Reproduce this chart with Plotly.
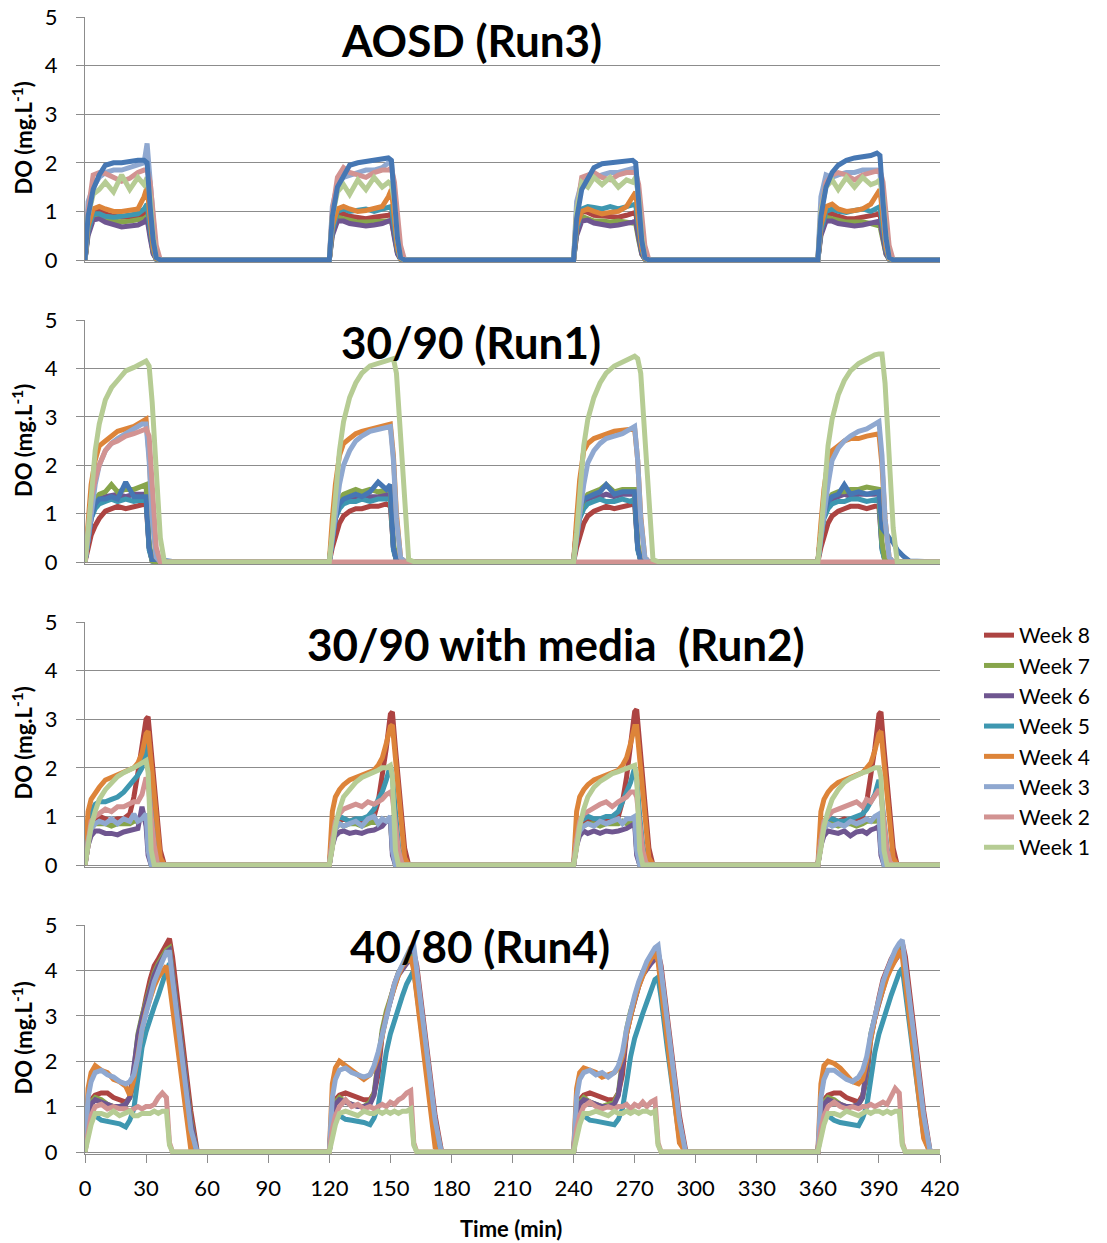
import plotly.graph_objects as go

# ---------------------------------------------------------------------------
# Dissolved oxygen (DO, mg/L) logged over four 120-min cycles for each run.
# Each series is given per cycle on the run's relative-time grid (minutes
# from the start of aeration); cycles start at CYCLE_STARTS.
# ---------------------------------------------------------------------------
CYCLE_STARTS = [0, 120, 240, 360]
END_TIME = 420
WEEKS = ["Week 8", "Week 7", "Week 6", "Week 5", "Week 4", "Week 3", "Week 2", "Week 1"]
EXTRA_SERIES = "Week 9"
PANEL_TITLES = ["AOSD (Run3)", "30/90 (Run1)", "30/90 with media\u00a0 (Run2)", "40/80 (Run4)"]
X_TICKS = [0, 30, 60, 90, 120, 150, 180, 210, 240, 270, 300, 330, 360, 390, 420]
Y_TICKS = [0, 1, 2, 3, 4, 5]

# ---- AOSD (Run3) ----------------------------------------------------------
T_RUN3 = [0, 1.5, 4, 7, 10, 14, 18, 22, 26, 29, 30.5, 32, 33.5, 35, 37]
RUN3_W8 = [[0, 0.6, 1.0, 1.02, 0.95, 0.9, 0.88, 0.9, 0.9, 0.95, 1.0, 0.55, 0.15, 0.02, 0],
           [0, 0.6, 0.95, 0.95, 0.9, 0.88, 0.85, 0.88, 0.9, 0.92, 0.95, 0.5, 0.15, 0.02, 0],
           [0, 0.6, 1.0, 0.98, 0.92, 0.9, 0.88, 0.88, 0.92, 0.95, 0.98, 0.55, 0.15, 0.02, 0],
           [0, 0.6, 0.95, 0.95, 0.9, 0.85, 0.85, 0.88, 0.9, 0.92, 0.95, 0.5, 0.15, 0.02, 0]]
RUN3_W7 = [[0, 0.55, 0.9, 0.88, 0.82, 0.8, 0.78, 0.8, 0.82, 0.85, 0.9, 0.5, 0.15, 0.02, 0],
           [0, 0.55, 0.88, 0.85, 0.8, 0.78, 0.78, 0.78, 0.8, 0.8, 0.82, 0.45, 0.15, 0.02, 0],
           [0, 0.55, 0.9, 0.85, 0.8, 0.8, 0.78, 0.8, 0.78, 0.75, 0.75, 0.4, 0.12, 0.02, 0],
           [0, 0.55, 0.88, 0.85, 0.8, 0.78, 0.78, 0.78, 0.75, 0.72, 0.7, 0.4, 0.12, 0.02, 0]]
RUN3_W6 = [[0, 0.5, 0.82, 0.85, 0.78, 0.72, 0.68, 0.7, 0.72, 0.78, 0.85, 0.45, 0.12, 0.02, 0],
           [0, 0.5, 0.8, 0.8, 0.75, 0.72, 0.7, 0.72, 0.75, 0.8, 0.82, 0.45, 0.12, 0.02, 0],
           [0, 0.5, 0.8, 0.82, 0.76, 0.72, 0.7, 0.72, 0.74, 0.78, 0.8, 0.45, 0.12, 0.02, 0],
           [0, 0.5, 0.8, 0.8, 0.75, 0.72, 0.7, 0.72, 0.75, 0.78, 0.8, 0.45, 0.12, 0.02, 0]]
RUN3_W5 = [[0, 0.6, 0.95, 0.95, 0.9, 0.88, 0.9, 0.92, 0.95, 1.05, 1.15, 0.65, 0.2, 0.02, 0],
           [0, 0.6, 1.0, 1.05, 1.0, 1.02, 1.05, 1.0, 1.05, 1.08, 1.1, 0.65, 0.2, 0.02, 0],
           [0, 0.6, 1.05, 1.1, 1.08, 1.05, 1.1, 1.05, 1.1, 1.12, 1.15, 0.65, 0.2, 0.02, 0],
           [0, 0.6, 1.0, 1.05, 1.0, 0.98, 1.02, 1.05, 1.0, 1.05, 1.1, 0.65, 0.2, 0.02, 0]]
RUN3_W4 = [[0, 0.7, 1.05, 1.1, 1.05, 1.0, 1.0, 1.02, 1.05, 1.3, 1.5, 0.85, 0.25, 0.03, 0],
           [0, 0.7, 1.05, 1.1, 1.05, 1.0, 1.02, 1.05, 1.1, 1.3, 1.45, 0.85, 0.25, 0.03, 0],
           [0, 0.7, 1.0, 1.05, 1.0, 0.95, 0.98, 1.0, 1.1, 1.3, 1.4, 0.8, 0.25, 0.03, 0],
           [0, 0.7, 1.1, 1.15, 1.05, 1.0, 1.02, 1.05, 1.15, 1.35, 1.45, 0.85, 0.25, 0.03, 0]]
RUN3_W3 = [[0, 1.2, 1.5, 1.7, 1.8, 1.85, 1.85, 1.9, 1.95, 2.0, 2.4, 1.6, 0.6, 0.1, 0],
           [0, 1.1, 1.55, 1.7, 1.75, 1.8, 1.85, 1.85, 1.9, 2.0, 2.05, 1.3, 0.45, 0.05, 0],
           [0, 1.2, 1.6, 1.65, 1.7, 1.75, 1.8, 1.8, 1.85, 1.9, 1.9, 1.2, 0.4, 0.05, 0],
           [0, 1.3, 1.75, 1.7, 1.75, 1.8, 1.8, 1.85, 1.85, 1.85, 1.8, 1.1, 0.4, 0.05, 0]]
RUN3_W2 = [[0, 1.0, 1.75, 1.8, 1.78, 1.7, 1.62, 1.68, 1.8, 1.85, 1.85, 1.6, 0.9, 0.3, 0],
           [0, 1.0, 1.7, 1.9, 1.8, 1.75, 1.7, 1.8, 1.85, 1.85, 1.9, 1.6, 0.9, 0.3, 0],
           [0, 1.0, 1.7, 1.75, 1.8, 1.7, 1.65, 1.75, 1.8, 1.8, 1.8, 1.55, 0.85, 0.3, 0],
           [0, 1.0, 1.6, 1.75, 1.8, 1.75, 1.65, 1.75, 1.8, 1.85, 1.85, 1.6, 0.9, 0.3, 0]]
RUN3_W1 = [[0, 0.9, 1.35, 1.45, 1.6, 1.4, 1.75, 1.45, 1.7, 1.55, 1.7, 1.3, 0.5, 0.05, 0],
           [0, 0.9, 1.4, 1.55, 1.35, 1.65, 1.45, 1.7, 1.5, 1.6, 1.55, 1.2, 0.45, 0.05, 0],
           [0, 1.0, 1.6, 1.5, 1.7, 1.55, 1.7, 1.5, 1.65, 1.6, 1.7, 1.3, 0.5, 0.05, 0],
           [0, 1.0, 1.5, 1.65, 1.45, 1.7, 1.5, 1.7, 1.55, 1.6, 1.65, 1.3, 0.5, 0.05, 0]]
RUN3_W9 = [[0, 0.9, 1.45, 1.75, 1.95, 2.0, 2.0, 2.03, 2.05, 2.05, 2.0, 1.1, 0.4, 0.05, 0],
           [0, 0.9, 1.5, 1.75, 1.95, 2.0, 2.02, 2.05, 2.08, 2.1, 2.05, 1.2, 0.45, 0.05, 0],
           [0, 0.85, 1.45, 1.7, 1.9, 1.98, 2.0, 2.02, 2.05, 2.05, 2.0, 1.1, 0.4, 0.05, 0],
           [0, 0.9, 1.5, 1.8, 1.95, 2.05, 2.1, 2.12, 2.15, 2.2, 2.15, 1.2, 0.45, 0.05, 0]]

# ---- 30/90 (Run1) ---------------------------------------------------------
T_RUN1 = [0, 1.5, 3, 5, 7, 10, 13, 16, 20, 24, 28, 30, 31.5, 33, 35, 37, 39, 42, 45]
RUN1_W8 = [[0, 0.3, 0.55, 0.75, 0.9, 1.05, 1.1, 1.15, 1.1, 1.15, 1.2, 1.2, 0.3, 0.02, 0, 0, 0, 0, 0],
           [0, 0.3, 0.55, 0.8, 0.95, 1.05, 1.1, 1.1, 1.15, 1.15, 1.2, 1.15, 0.3, 0.02, 0, 0, 0, 0, 0],
           [0, 0.3, 0.55, 0.8, 0.95, 1.05, 1.1, 1.15, 1.1, 1.15, 1.2, 1.2, 0.3, 0.02, 0, 0, 0, 0, 0],
           [0, 0.3, 0.55, 0.8, 0.95, 1.05, 1.1, 1.15, 1.15, 1.1, 1.15, 1.15, 0.3, 0.02, 0, 0, 0, 0, 0]]
RUN1_W7 = [[0, 0.6, 1.0, 1.3, 1.4, 1.45, 1.6, 1.45, 1.5, 1.5, 1.55, 1.6, 0.4, 0.02, 0, 0, 0, 0, 0],
           [0, 0.6, 1.0, 1.3, 1.4, 1.45, 1.5, 1.45, 1.5, 1.45, 1.5, 1.5, 0.4, 0.02, 0, 0, 0, 0, 0],
           [0, 0.6, 1.0, 1.3, 1.4, 1.45, 1.5, 1.6, 1.45, 1.5, 1.5, 1.5, 0.4, 0.02, 0, 0, 0, 0, 0],
           [0, 0.6, 1.0, 1.3, 1.4, 1.45, 1.45, 1.5, 1.5, 1.55, 1.5, 1.5, 0.4, 0.02, 0, 0, 0, 0, 0]]
RUN1_W6 = [[0, 0.5, 0.9, 1.2, 1.3, 1.35, 1.38, 1.4, 1.35, 1.4, 1.4, 1.4, 0.3, 0.02, 0, 0, 0, 0, 0],
           [0, 0.5, 0.9, 1.2, 1.3, 1.35, 1.35, 1.38, 1.35, 1.35, 1.4, 1.35, 0.3, 0.02, 0, 0, 0, 0, 0],
           [0, 0.7, 1.0, 1.2, 1.3, 1.35, 1.35, 1.4, 1.35, 1.4, 1.4, 1.4, 0.3, 0.02, 0, 0, 0, 0, 0],
           [0, 0.6, 1.0, 1.2, 1.3, 1.35, 1.4, 1.35, 1.4, 1.4, 1.4, 1.45, 0.3, 0.02, 0, 0, 0, 0, 0]]
RUN1_W5 = [[0, 0.5, 0.9, 1.1, 1.2, 1.25, 1.3, 1.25, 1.3, 1.25, 1.3, 1.3, 0.25, 0.02, 0, 0, 0, 0, 0],
           [0, 0.5, 0.9, 1.1, 1.2, 1.25, 1.25, 1.3, 1.25, 1.3, 1.3, 1.3, 0.25, 0.02, 0, 0, 0, 0, 0],
           [0, 0.5, 0.9, 1.1, 1.2, 1.25, 1.3, 1.25, 1.25, 1.3, 1.25, 1.3, 0.25, 0.02, 0, 0, 0, 0, 0],
           [0, 0.5, 0.9, 1.1, 1.2, 1.25, 1.25, 1.3, 1.3, 1.25, 1.3, 1.3, 0.25, 0.02, 0, 0, 0, 0, 0]]
RUN1_W4 = [[0, 0.9, 1.6, 2.1, 2.4, 2.5, 2.6, 2.7, 2.75, 2.8, 2.9, 2.95, 2.2, 1.0, 0.1, 0, 0, 0, 0],
           [0, 0.9, 1.6, 2.2, 2.45, 2.55, 2.65, 2.7, 2.75, 2.8, 2.85, 2.85, 2.2, 1.0, 0.1, 0, 0, 0, 0],
           [0, 0.9, 1.7, 2.3, 2.45, 2.55, 2.6, 2.65, 2.7, 2.72, 2.75, 2.75, 2.1, 0.95, 0.1, 0, 0, 0, 0],
           [0, 0.8, 1.5, 2.1, 2.3, 2.4, 2.5, 2.55, 2.55, 2.6, 2.65, 2.65, 2.0, 0.9, 0.1, 0, 0, 0, 0]]
RUN1_W3 = [[0, 0.5, 1.0, 1.6, 2.0, 2.3, 2.45, 2.55, 2.65, 2.75, 2.85, 2.85, 2.1, 0.9, 0.1, 0, 0, 0, 0],
           [0, 0.5, 1.0, 1.6, 2.0, 2.3, 2.5, 2.6, 2.7, 2.75, 2.8, 2.8, 2.1, 0.9, 0.1, 0, 0, 0, 0],
           [0, 0.5, 1.0, 1.6, 2.05, 2.3, 2.45, 2.55, 2.6, 2.65, 2.75, 2.8, 2.1, 0.9, 0.1, 0, 0, 0, 0],
           [0, 0.5, 1.0, 1.6, 2.1, 2.35, 2.5, 2.6, 2.7, 2.75, 2.85, 2.9, 2.2, 0.9, 0.1, 0, 0, 0, 0]]
RUN1_W2 = [[0, 0.8, 1.3, 1.7, 2.0, 2.3, 2.45, 2.5, 2.6, 2.65, 2.7, 2.75, 2.6, 1.6, 0.3, 0, 0, 0, 0],
           [0, 0, 0, 0, 0, 0, 0, 0, 0, 0, 0, 0, 0, 0, 0, 0, 0, 0, 0],
           [0, 0, 0, 0, 0, 0, 0, 0, 0, 0, 0, 0, 0, 0, 0, 0, 0, 0, 0],
           [0, 0, 0, 0, 0, 0, 0, 0, 0, 0, 0, 0, 0, 0, 0, 0, 0, 0, 0]]
RUN1_W1 = [[0, 0.6, 1.3, 2.3, 2.85, 3.35, 3.6, 3.75, 3.95, 4.02, 4.1, 4.15, 4.05, 3.3, 1.9, 0.5, 0, 0, 0],
           [0, 0.6, 1.3, 2.3, 2.9, 3.4, 3.7, 3.9, 4.05, 4.1, 4.15, 4.2, 4.2, 3.9, 2.6, 1.2, 0.05, 0, 0],
           [0, 0.6, 1.3, 2.4, 2.95, 3.4, 3.7, 3.9, 4.05, 4.12, 4.2, 4.25, 4.2, 3.9, 2.6, 1.2, 0.05, 0, 0],
           [0, 0.6, 1.3, 2.4, 2.95, 3.45, 3.75, 3.95, 4.1, 4.2, 4.28, 4.3, 4.3, 3.7, 2.2, 0.7, 0, 0, 0]]
RUN1_W9 = [[0, 0.5, 0.9, 1.2, 1.3, 1.3, 1.35, 1.3, 1.65, 1.35, 1.35, 1.35, 0.3, 0.05, 0.05, 0.04, 0.03, 0.02, 0],
           [0, 0.5, 0.9, 1.2, 1.3, 1.35, 1.4, 1.35, 1.45, 1.65, 1.5, 1.6, 0.3, 0.03, 0.02, 0, 0, 0, 0],
           [0, 0.7, 1.1, 1.3, 1.35, 1.4, 1.45, 1.6, 1.4, 1.45, 1.45, 1.45, 0.3, 0.03, 0, 0, 0, 0, 0],
           [0, 0.6, 1.0, 1.25, 1.35, 1.4, 1.6, 1.4, 1.45, 1.4, 1.45, 1.45, 0.7, 0.6, 0.5, 0.4, 0.25, 0.12, 0.02]]

# ---- 30/90 with media (Run2) ----------------------------------------------
T_RUN2 = [0, 1.5, 3, 5, 7, 10, 13, 16, 19, 22, 24, 26, 28, 30, 31, 32.5, 34, 35.5, 37, 39]
RUN2_W8 = [[0, 0.4, 0.8, 0.95, 1.0, 0.95, 0.9, 0.95, 0.95, 1.05, 1.4, 1.9, 2.45, 3.0, 3.05, 2.3, 1.6, 0.9, 0.3, 0],
           [0, 0.4, 0.75, 0.9, 0.95, 0.9, 0.95, 0.9, 0.95, 1.0, 1.3, 1.8, 2.4, 3.1, 3.15, 2.4, 1.7, 1.0, 0.35, 0],
           [0, 0.4, 0.75, 0.9, 0.95, 0.9, 0.9, 0.95, 0.95, 1.0, 1.3, 1.8, 2.4, 3.15, 3.2, 2.45, 1.7, 1.0, 0.35, 0],
           [0, 0.4, 0.75, 0.9, 0.95, 0.9, 0.95, 0.9, 0.95, 1.0, 1.3, 1.8, 2.4, 3.1, 3.15, 2.4, 1.7, 1.0, 0.35, 0]]
RUN2_W7 = [[0, 0.5, 0.75, 0.85, 0.85, 0.85, 0.8, 0.85, 0.85, 0.85, 0.9, 0.9, 0.95, 1.0, 0.3, 0, 0, 0, 0, 0],
           [0, 0.5, 0.75, 0.85, 0.8, 0.85, 0.85, 0.8, 0.85, 0.9, 0.85, 0.9, 0.9, 0.95, 0.3, 0, 0, 0, 0, 0],
           [0, 0.5, 0.75, 0.8, 0.85, 0.85, 0.8, 0.85, 0.85, 0.85, 0.9, 0.85, 0.9, 0.95, 0.3, 0, 0, 0, 0, 0],
           [0, 0.5, 0.75, 0.85, 0.85, 0.8, 0.85, 0.85, 0.8, 0.85, 0.9, 0.9, 0.9, 0.95, 0.3, 0, 0, 0, 0, 0]]
RUN2_W6 = [[0, 0.4, 0.6, 0.7, 0.7, 0.65, 0.65, 0.62, 0.68, 0.7, 0.72, 0.75, 1.2, 0.8, 0.2, 0, 0, 0, 0, 0],
           [0, 0.4, 0.6, 0.68, 0.7, 0.65, 0.68, 0.65, 0.7, 0.72, 0.75, 0.8, 0.9, 0.95, 0.2, 0, 0, 0, 0, 0],
           [0, 0.4, 0.6, 0.7, 0.65, 0.7, 0.65, 0.7, 0.68, 0.7, 0.72, 0.75, 0.8, 0.85, 0.2, 0, 0, 0, 0, 0],
           [0, 0.4, 0.6, 0.7, 0.68, 0.65, 0.7, 0.6, 0.68, 0.7, 0.65, 0.72, 0.75, 0.8, 0.2, 0, 0, 0, 0, 0]]
RUN2_W5 = [[0, 0.7, 1.1, 1.25, 1.3, 1.3, 1.35, 1.4, 1.5, 1.65, 1.75, 1.85, 2.0, 2.5, 2.3, 1.5, 0.8, 0.25, 0, 0],
           [0, 0.6, 0.9, 1.0, 0.95, 0.9, 0.95, 0.95, 1.0, 1.15, 1.35, 1.5, 1.75, 2.05, 1.8, 1.0, 0.4, 0.05, 0, 0],
           [0, 0.6, 0.9, 0.95, 1.0, 0.95, 0.95, 1.0, 1.0, 1.1, 1.3, 1.5, 1.7, 2.0, 1.8, 1.0, 0.4, 0.05, 0, 0],
           [0, 0.6, 0.9, 0.95, 0.95, 0.9, 0.9, 0.95, 1.0, 1.05, 1.15, 1.3, 1.45, 1.75, 1.5, 0.9, 0.35, 0.05, 0, 0]]
RUN2_W4 = [[0, 1.1, 1.35, 1.5, 1.6, 1.75, 1.8, 1.85, 1.9, 1.95, 2.0, 2.1, 2.3, 2.7, 2.75, 2.1, 1.4, 0.7, 0.15, 0],
           [0, 1.1, 1.4, 1.55, 1.65, 1.75, 1.8, 1.85, 1.9, 1.95, 2.05, 2.2, 2.5, 2.85, 2.88, 2.2, 1.5, 0.75, 0.15, 0],
           [0, 1.1, 1.4, 1.55, 1.65, 1.75, 1.8, 1.85, 1.9, 1.95, 2.05, 2.2, 2.5, 2.85, 2.85, 2.2, 1.5, 0.75, 0.15, 0],
           [0, 1.1, 1.35, 1.5, 1.6, 1.7, 1.75, 1.8, 1.85, 1.9, 2.0, 2.1, 2.35, 2.7, 2.75, 2.1, 1.4, 0.7, 0.15, 0]]
RUN2_W3 = [[0, 0.5, 0.75, 0.85, 0.9, 0.85, 0.95, 0.85, 0.95, 0.9, 1.05, 0.9, 0.95, 1.05, 0.3, 0, 0, 0, 0, 0],
           [0, 0.5, 0.75, 0.85, 0.8, 0.85, 0.9, 0.8, 0.95, 1.0, 0.85, 0.95, 0.9, 1.0, 0.3, 0, 0, 0, 0, 0],
           [0, 0.5, 0.7, 0.8, 0.85, 0.8, 0.9, 0.85, 0.9, 0.95, 0.85, 0.95, 0.95, 1.0, 0.3, 0, 0, 0, 0, 0],
           [0, 0.5, 0.75, 0.85, 0.8, 0.85, 0.8, 0.9, 0.85, 0.9, 0.95, 0.9, 1.0, 1.05, 0.3, 0, 0, 0, 0, 0]]
RUN2_W2 = [[0, 0.5, 0.9, 1.0, 1.05, 1.15, 1.1, 1.2, 1.2, 1.25, 1.3, 1.3, 1.45, 1.8, 1.7, 1.0, 0.4, 0.05, 0, 0],
           [0, 0.5, 0.9, 1.05, 1.15, 1.2, 1.25, 1.2, 1.3, 1.25, 1.3, 1.35, 1.45, 1.5, 1.4, 0.8, 0.3, 0.05, 0, 0],
           [0, 0.5, 0.9, 1.05, 1.1, 1.2, 1.25, 1.3, 1.2, 1.3, 1.35, 1.4, 1.5, 1.5, 1.4, 0.8, 0.3, 0.05, 0, 0],
           [0, 0.5, 0.9, 1.0, 1.1, 1.15, 1.2, 1.25, 1.3, 1.2, 1.35, 1.3, 1.45, 1.55, 1.45, 0.8, 0.3, 0.05, 0, 0]]
RUN2_W1 = [[0, 0.35, 0.8, 1.1, 1.35, 1.55, 1.7, 1.82, 1.9, 1.95, 2.0, 2.05, 2.1, 2.15, 1.9, 0.3, 0, 0, 0, 0],
           [0, 0.35, 0.8, 1.15, 1.4, 1.55, 1.7, 1.8, 1.85, 1.9, 1.95, 2.0, 2.0, 2.05, 1.8, 0.3, 0, 0, 0, 0],
           [0, 0.35, 0.8, 1.15, 1.4, 1.6, 1.72, 1.8, 1.88, 1.92, 1.95, 1.98, 2.0, 2.05, 1.8, 0.3, 0, 0, 0, 0],
           [0, 0.35, 0.8, 1.1, 1.35, 1.55, 1.7, 1.78, 1.85, 1.9, 1.92, 1.95, 2.0, 2.0, 1.8, 0.3, 0, 0, 0, 0]]

# ---- 40/80 (Run4) ---------------------------------------------------------
T_RUN4 = [0, 1.5, 3, 5, 8, 11, 14, 17, 20, 22, 24, 26, 28, 30, 32, 34, 36, 38, 40, 41.5, 43, 46, 49, 52, 55, 57]
RUN4_W8 = [[0, 0.9, 1.15, 1.25, 1.3, 1.3, 1.2, 1.15, 1.1, 1.2, 1.5, 2.5, 3.0, 3.4, 3.8, 4.1, 4.25, 4.4, 4.55, 4.7, 4.3, 3.2, 2.0, 0.9, 0.05, 0],
           [0, 0.9, 1.15, 1.25, 1.3, 1.25, 1.2, 1.15, 1.15, 1.3, 1.7, 2.6, 3.0, 3.4, 3.7, 3.95, 4.1, 4.25, 4.35, 4.4, 4.1, 3.0, 1.9, 0.8, 0.05, 0],
           [0, 0.9, 1.15, 1.25, 1.3, 1.25, 1.2, 1.15, 1.15, 1.3, 1.7, 2.6, 3.0, 3.4, 3.7, 3.95, 4.1, 4.25, 4.35, 4.4, 4.1, 3.0, 1.9, 0.8, 0.05, 0],
           [0, 0.9, 1.15, 1.25, 1.3, 1.3, 1.2, 1.15, 1.1, 1.25, 1.6, 2.5, 3.0, 3.4, 3.8, 4.05, 4.25, 4.4, 4.5, 4.6, 4.3, 3.2, 2.0, 0.9, 0.05, 0]]
RUN4_W7 = [[0, 0.8, 1.1, 1.2, 1.15, 1.05, 1.0, 1.0, 1.05, 1.2, 1.8, 2.6, 3.0, 3.35, 3.7, 3.95, 4.15, 4.3, 4.45, 4.5, 4.0, 2.9, 1.8, 0.7, 0, 0],
           [0, 0.8, 1.1, 1.2, 1.1, 1.05, 1.0, 1.0, 1.1, 1.3, 2.0, 2.7, 3.1, 3.4, 3.7, 3.95, 4.1, 4.2, 4.3, 4.3, 3.9, 2.8, 1.7, 0.6, 0, 0],
           [0, 0.8, 1.1, 1.2, 1.1, 1.05, 1.0, 1.05, 1.1, 1.3, 2.0, 2.7, 3.1, 3.4, 3.7, 3.95, 4.1, 4.2, 4.3, 4.3, 3.9, 2.8, 1.7, 0.6, 0, 0],
           [0, 0.8, 1.1, 1.2, 1.15, 1.05, 1.0, 1.0, 1.05, 1.2, 1.8, 2.6, 3.0, 3.35, 3.7, 3.95, 4.15, 4.3, 4.4, 4.5, 4.0, 2.9, 1.8, 0.7, 0, 0]]
RUN4_W6 = [[0, 0.8, 1.05, 1.15, 1.1, 1.05, 1.0, 1.0, 1.05, 1.2, 1.8, 2.55, 2.95, 3.3, 3.65, 3.9, 4.1, 4.25, 4.4, 4.45, 3.95, 2.85, 1.75, 0.65, 0, 0],
           [0, 0.8, 1.05, 1.15, 1.1, 1.05, 1.0, 1.0, 1.05, 1.25, 1.9, 2.6, 3.0, 3.35, 3.65, 3.9, 4.05, 4.15, 4.25, 4.25, 3.85, 2.75, 1.65, 0.55, 0, 0],
           [0, 0.8, 1.05, 1.15, 1.1, 1.05, 1.0, 1.0, 1.05, 1.25, 1.9, 2.6, 3.0, 3.35, 3.65, 3.9, 4.05, 4.15, 4.25, 4.25, 3.85, 2.75, 1.65, 0.55, 0, 0],
           [0, 0.8, 1.05, 1.15, 1.1, 1.05, 1.0, 1.0, 1.05, 1.2, 1.8, 2.55, 2.95, 3.3, 3.65, 3.9, 4.1, 4.25, 4.35, 4.45, 3.95, 2.85, 1.75, 0.65, 0, 0]]
RUN4_W5 = [[0, 0.5, 0.75, 0.8, 0.7, 0.68, 0.65, 0.62, 0.55, 0.7, 0.95, 1.7, 2.3, 2.65, 2.95, 3.2, 3.45, 3.75, 4.0, 4.15, 3.6, 2.5, 1.4, 0.4, 0, 0],
           [0, 0.5, 0.75, 0.8, 0.72, 0.7, 0.68, 0.65, 0.6, 0.75, 1.0, 1.6, 2.2, 2.6, 2.9, 3.2, 3.45, 3.7, 3.9, 4.0, 3.5, 2.4, 1.3, 0.35, 0, 0],
           [0, 0.5, 0.75, 0.8, 0.7, 0.68, 0.65, 0.62, 0.6, 0.72, 0.95, 1.5, 2.1, 2.5, 2.8, 3.05, 3.3, 3.55, 3.8, 3.85, 3.4, 2.3, 1.2, 0.3, 0, 0],
           [0, 0.5, 0.75, 0.8, 0.7, 0.65, 0.62, 0.6, 0.58, 0.75, 1.0, 1.6, 2.2, 2.6, 2.9, 3.2, 3.45, 3.7, 3.95, 4.05, 3.55, 2.45, 1.35, 0.35, 0, 0]]
RUN4_W4 = [[0, 1.4, 1.75, 1.9, 1.8, 1.75, 1.6, 1.55, 1.45, 1.25, 1.6, 2.2, 2.7, 3.1, 3.4, 3.65, 3.85, 4.0, 4.1, 3.7, 3.2, 2.1, 1.0, 0.05, 0, 0],
           [0, 1.5, 1.85, 2.0, 1.9, 1.8, 1.7, 1.6, 1.7, 1.85, 2.1, 2.6, 3.0, 3.35, 3.65, 3.9, 4.1, 4.2, 4.3, 4.0, 3.4, 2.3, 1.2, 0.1, 0, 0],
           [0, 1.4, 1.75, 1.85, 1.8, 1.75, 1.65, 1.7, 1.75, 1.85, 2.1, 2.6, 3.0, 3.35, 3.65, 3.9, 4.1, 4.25, 4.4, 4.2, 3.6, 2.4, 1.3, 0.2, 0, 0],
           [0, 1.5, 1.9, 2.0, 1.95, 1.85, 1.7, 1.55, 1.5, 1.6, 2.0, 2.5, 2.95, 3.3, 3.6, 3.85, 4.05, 4.25, 4.4, 4.3, 3.7, 2.5, 1.4, 0.3, 0, 0]]
RUN4_W3 = [[0, 1.2, 1.55, 1.75, 1.8, 1.7, 1.65, 1.55, 1.5, 1.55, 1.7, 2.1, 2.7, 3.1, 3.4, 3.75, 4.0, 4.2, 4.4, 4.4, 3.8, 2.7, 1.6, 0.5, 0, 0],
           [0, 1.2, 1.6, 1.8, 1.85, 1.75, 1.7, 1.65, 1.7, 1.9, 2.2, 2.6, 3.0, 3.35, 3.7, 3.95, 4.15, 4.3, 4.5, 4.55, 4.0, 2.9, 1.8, 0.7, 0, 0],
           [0, 1.2, 1.6, 1.75, 1.8, 1.7, 1.75, 1.65, 1.75, 1.9, 2.2, 2.7, 3.1, 3.45, 3.75, 4.0, 4.2, 4.35, 4.5, 4.55, 4.0, 2.9, 1.8, 0.7, 0, 0],
           [0, 1.2, 1.6, 1.8, 1.8, 1.7, 1.6, 1.55, 1.65, 1.8, 2.1, 2.6, 3.0, 3.4, 3.75, 4.0, 4.25, 4.45, 4.6, 4.67, 4.1, 3.0, 1.9, 0.8, 0.05, 0]]
RUN4_W2 = [[0, 0.5, 0.8, 1.0, 1.05, 0.95, 1.0, 0.95, 0.95, 0.9, 0.95, 1.0, 0.95, 1.0, 1.0, 1.05, 1.2, 1.3, 1.2, 0.2, 0, 0, 0, 0, 0, 0],
           [0, 0.5, 0.8, 1.0, 1.15, 1.0, 1.05, 0.95, 1.0, 0.95, 1.0, 1.05, 1.0, 1.1, 1.05, 1.15, 1.2, 1.3, 1.35, 0.2, 0, 0, 0, 0, 0, 0],
           [0, 0.5, 0.8, 1.0, 1.1, 1.0, 0.95, 1.0, 0.95, 1.0, 1.0, 1.05, 0.95, 1.05, 1.0, 1.1, 1.0, 1.1, 1.15, 0.2, 0, 0, 0, 0, 0, 0],
           [0, 0.5, 0.8, 1.0, 1.1, 1.0, 0.95, 1.0, 0.95, 1.0, 1.0, 1.05, 1.0, 1.05, 1.1, 1.05, 1.2, 1.4, 1.3, 0.2, 0, 0, 0, 0, 0, 0]]
RUN4_W1 = [[0, 0.3, 0.6, 0.85, 0.85, 0.8, 0.9, 0.8, 0.85, 0.9, 0.8, 0.8, 0.85, 0.85, 0.85, 0.9, 0.85, 0.9, 0.9, 0.15, 0, 0, 0, 0, 0, 0],
           [0, 0.3, 0.6, 0.85, 0.9, 0.85, 0.8, 0.9, 0.85, 0.85, 0.9, 0.85, 0.9, 0.85, 0.9, 0.85, 0.9, 0.9, 0.95, 0.15, 0, 0, 0, 0, 0, 0],
           [0, 0.3, 0.6, 0.85, 0.85, 0.9, 0.85, 0.8, 0.9, 0.85, 0.85, 0.9, 0.85, 0.9, 0.85, 0.9, 0.9, 0.85, 0.9, 0.15, 0, 0, 0, 0, 0, 0],
           [0, 0.3, 0.6, 0.85, 0.85, 0.8, 0.9, 0.85, 0.8, 0.85, 0.9, 0.85, 0.9, 0.9, 0.85, 0.9, 0.85, 0.9, 0.9, 0.15, 0, 0, 0, 0, 0, 0]]

# ---------------------------------------------------------------------------
COLORS = {
    "Week 8": "#AD4442", "Week 7": "#87A54B", "Week 6": "#6F5690", "Week 5": "#3E97B0",
    "Week 4": "#DD8439", "Week 3": "#8FA8D0", "Week 2": "#D29392", "Week 1": "#B6CC94",
    "Week 9": "#4677B3",
}

# Series per panel, in drawing order (later = on top)
PANELS = [
    (T_RUN3, [("Week 8", RUN3_W8), ("Week 7", RUN3_W7), ("Week 6", RUN3_W6), ("Week 5", RUN3_W5),
              ("Week 4", RUN3_W4), ("Week 3", RUN3_W3), ("Week 2", RUN3_W2), ("Week 1", RUN3_W1),
              (EXTRA_SERIES, RUN3_W9)]),
    (T_RUN1, [("Week 8", RUN1_W8), ("Week 6", RUN1_W6), ("Week 5", RUN1_W5), ("Week 7", RUN1_W7),
              (EXTRA_SERIES, RUN1_W9), ("Week 4", RUN1_W4), ("Week 3", RUN1_W3), ("Week 2", RUN1_W2),
              ("Week 1", RUN1_W1)]),
    (T_RUN2, [("Week 8", RUN2_W8), ("Week 7", RUN2_W7), ("Week 6", RUN2_W6), ("Week 5", RUN2_W5),
              ("Week 4", RUN2_W4), ("Week 3", RUN2_W3), ("Week 2", RUN2_W2), ("Week 1", RUN2_W1)]),
    (T_RUN4, [("Week 8", RUN4_W8), ("Week 7", RUN4_W7), ("Week 6", RUN4_W6), ("Week 5", RUN4_W5),
              ("Week 4", RUN4_W4), ("Week 3", RUN4_W3), ("Week 2", RUN4_W2), ("Week 1", RUN4_W1)]),
]
LEGEND_PANEL = 2


def series_xy(trel, cycles, label):
    xs, ys = [], []
    for start, vals in zip(CYCLE_STARTS, cycles):
        if len(vals) != len(trel):
            raise ValueError(f"{label}: {len(vals)} values for {len(trel)} times")
        xs += [start + t for t in trel]
        ys += vals
    xs.append(END_TIME)
    ys.append(0)
    return xs, ys


# ---- layout geometry (pixels) ----------------------------------------------
W, H = 1107, 1243
X_LEFT, X_RIGHT = 85, 940
PANEL_PX = [(17, 260), (320, 562), (622, 865), (925, 1152)]   # y=5 and y=0 rows
Y_MIN, Y_MAX = -0.05, 5
GRID = "#8C8C8C"
FONT = "Lato"

fig = go.Figure()
for p, (trel, series) in enumerate(PANELS):
    sfx = "" if p == 0 else str(p + 1)
    for name, cycles in series:
        xs, ys = series_xy(trel, cycles, f"panel {p + 1} {name}")
        show = (p == LEGEND_PANEL and name in WEEKS)
        fig.add_trace(go.Scatter(
            x=xs, y=ys, mode="lines", name=name,
            line=dict(color=COLORS[name], width=5),
            xaxis="x" + sfx, yaxis="y" + sfx,
            showlegend=show, legendrank=WEEKS.index(name) + 1 if name in WEEKS else 1000,
            hoverinfo="x+y+name",
        ))

layout = dict(
    width=W, height=H, autosize=False,
    margin=dict(l=0, r=0, t=0, b=0, pad=0, autoexpand=False),
    paper_bgcolor="white", plot_bgcolor="white",
    font=dict(family=FONT, size=22, color="#000000"),
    legend=dict(x=979 / W, y=1 - 615 / H, xanchor="left", yanchor="top",
                font=dict(family=FONT, size=21, color="#000000"),
                bgcolor="rgba(0,0,0,0)", tracegroupgap=0, itemwidth=30),
    annotations=[],
)

xdom = [X_LEFT / W, X_RIGHT / W]
for p, (top, bot) in enumerate(PANEL_PX):
    sfx = "" if p == 0 else str(p + 1)
    scale = (bot - top) / (Y_MAX - 0)
    bot_px = bot + (0 - Y_MIN) * scale
    ydom = [1 - bot_px / H, 1 - top / H]
    last = p == len(PANEL_PX) - 1
    layout["xaxis" + sfx] = dict(
        domain=xdom, range=[0, END_TIME], anchor="y" + sfx, automargin=False,
        tickvals=X_TICKS, showticklabels=last, ticks="outside" if last else "",
        ticklen=8, tickcolor=GRID, tickwidth=1.3, ticklabelstandoff=6,
        showline=True, linecolor=GRID, linewidth=1.3, showgrid=False, zeroline=False,
        tickfont=dict(family=FONT, size=22, color="#000000"),
    )
    layout["yaxis" + sfx] = dict(
        domain=ydom, range=[Y_MIN, Y_MAX], anchor="x" + sfx, automargin=False,
        tickvals=Y_TICKS, ticks="outside", ticklen=8, tickcolor=GRID, tickwidth=1.3,
        ticklabelstandoff=14,
        showline=True, linecolor=GRID, linewidth=1.3,
        showgrid=True, gridcolor=GRID, gridwidth=1.3, zeroline=False,
        tickfont=dict(family=FONT, size=22, color="#000000"),
    )
    # y-axis title
    layout["annotations"].append(dict(
        text="<b>DO (mg.L<sup>-1</sup>)</b>", textangle=-90,
        x=22 / W, y=1 - ((top + bot) / 2) / H, xref="paper", yref="paper",
        xanchor="center", yanchor="middle",
        showarrow=False, font=dict(family=FONT, size=22, color="#000000"),
    ))

# panel titles
TITLE_POS = [(471, 40), (471, 342), (556, 644), (480, 946)]
for text, (cx, cy) in zip(PANEL_TITLES, TITLE_POS):
    layout["annotations"].append(dict(
        text="<b>" + text + "</b>", x=cx / W, y=1 - cy / H, xref="paper", yref="paper",
        xanchor="center", yanchor="middle",
        showarrow=False, font=dict(family=FONT, size=44, color="#000000"),
    ))

layout["annotations"].append(dict(
    text="<b>Time (min)</b>", x=511 / W, y=1 - 1228 / H, xref="paper", yref="paper",
    xanchor="center", yanchor="middle",
    showarrow=False, font=dict(family=FONT, size=22, color="#000000"),
))

fig.update_layout(**layout)
fig.write_html("out.html")
